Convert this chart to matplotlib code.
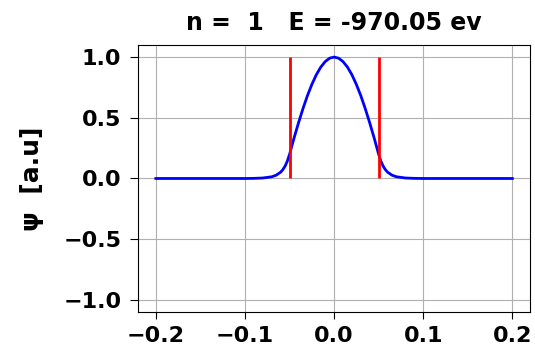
import matplotlib
matplotlib.use("Agg")
import matplotlib.pyplot as plt

# wavefunction values (symmetric about x = 0)
x_half = [0.0, 0.005, 0.01, 0.015, 0.02, 0.025, 0.03, 0.035, 0.04, 0.045, 0.05,
          0.0525, 0.055, 0.0575, 0.06, 0.065, 0.07, 0.08, 0.09, 0.1, 0.12, 0.15, 0.2]
psi_half = [1.0, 0.991, 0.963, 0.917, 0.854, 0.774, 0.681, 0.574, 0.457, 0.332, 0.199,
            0.143, 0.102, 0.073, 0.052, 0.027, 0.014, 0.004, 0.001, 0.0, 0.0, 0.0, 0.0]

x_vals = [-v for v in x_half[:0:-1]] + x_half
psi_vals = psi_half[:0:-1] + psi_half

# well walls
wall_x = [-0.05, 0.05]
wall_bottom = 0.0
wall_top = 1.0

n_level = 1
energy = -970.05

fig = plt.figure(figsize=(5.35, 3.51), dpi=100)
ax = fig.add_axes([0.258, 0.111, 0.733, 0.761])

ax.plot(x_vals, psi_vals, color="blue", lw=2)
ax.vlines(wall_x, wall_bottom, wall_top, color="red", lw=2)

ax.set_ylim(-1.1, 1.1)
ax.set_xticks([-0.2, -0.1, 0.0, 0.1, 0.2])
ax.set_yticks([-1.0, -0.5, 0.0, 0.5, 1.0])
ax.grid(True)
ax.tick_params(axis="y", length=6, pad=6)
ax.tick_params(axis="x", length=5, pad=5)
for lbl in ax.get_xticklabels() + ax.get_yticklabels():
    lbl.set_fontsize(16)
    lbl.set_fontweight("bold")

ax.set_title(f"n =  {n_level}   E = {energy:.2f} ev", fontsize=17, fontweight="bold", pad=11)
ax.set_ylabel("\u03c8  [a.u]", fontsize=18, fontweight="bold", labelpad=14)

fig.savefig("out.png", dpi=100)
